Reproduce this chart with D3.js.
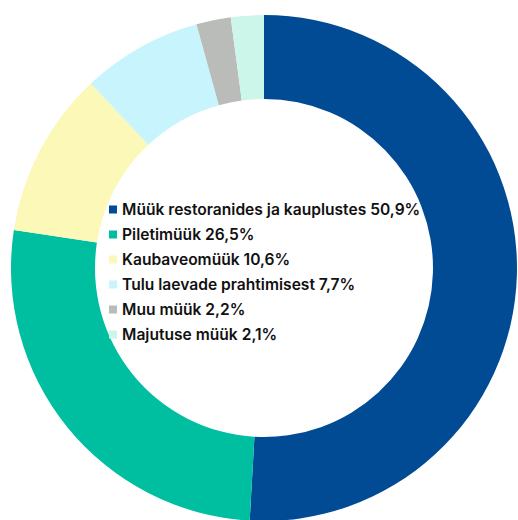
<!DOCTYPE html>
<html><head><meta charset="utf-8">
<script src="https://cdn.jsdelivr.net/npm/d3@7"></script>
<style>html,body{margin:0;padding:0;background:#fff;}</style>
</head><body>
<svg id="c" width="518" height="520"></svg>
<script>
const categories = ["Müük restoranides ja kauplustes","Piletimüük","Kaubaveomüük","Tulu laevade prahtimisest","Muu müük","Majutuse müük"];
const values = [50.9, 26.5, 10.6, 7.7, 2.2, 2.1];
const labels = ["50,9%","26,5%","10,6%","7,7%","2,2%","2,1%"];
const colors = ["#004b93","#00bfa0","#fbf8b8","#c8f4fd","#b9bcb8","#cdf6ea"];

const svg = d3.select("#c");
const cx = 264, cy = 268, R = 253, r = 169;
const pie = d3.pie().sort(null).value(d => d);
const arc = d3.arc().innerRadius(r).outerRadius(R);
const g = svg.append("g").attr("transform", `translate(${cx},${cy})`);
g.selectAll("path").data(pie(values)).join("path")
  .attr("d", arc).attr("fill", (d,i) => colors[i]);

const y = d3.scaleBand().domain(categories).range([197, 347]);
const lg = svg.append("g");
const rows = lg.selectAll("g").data(categories).join("g")
  .attr("transform", d => `translate(0,${y(d) + y.bandwidth()/2})`);
rows.append("rect").attr("x", 109).attr("y", -4).attr("width", 8).attr("height", 8)
  .attr("fill", (d,i) => colors[i]);
rows.append("text").attr("x", 122).attr("dy", "0.35em")
  .attr("font-family", "Inter").attr("font-weight", 600).attr("font-size", 15.6)
  .attr("fill", "#111")
  .text((d,i) => d + " " + labels[i]);
</script>
</body></html>
